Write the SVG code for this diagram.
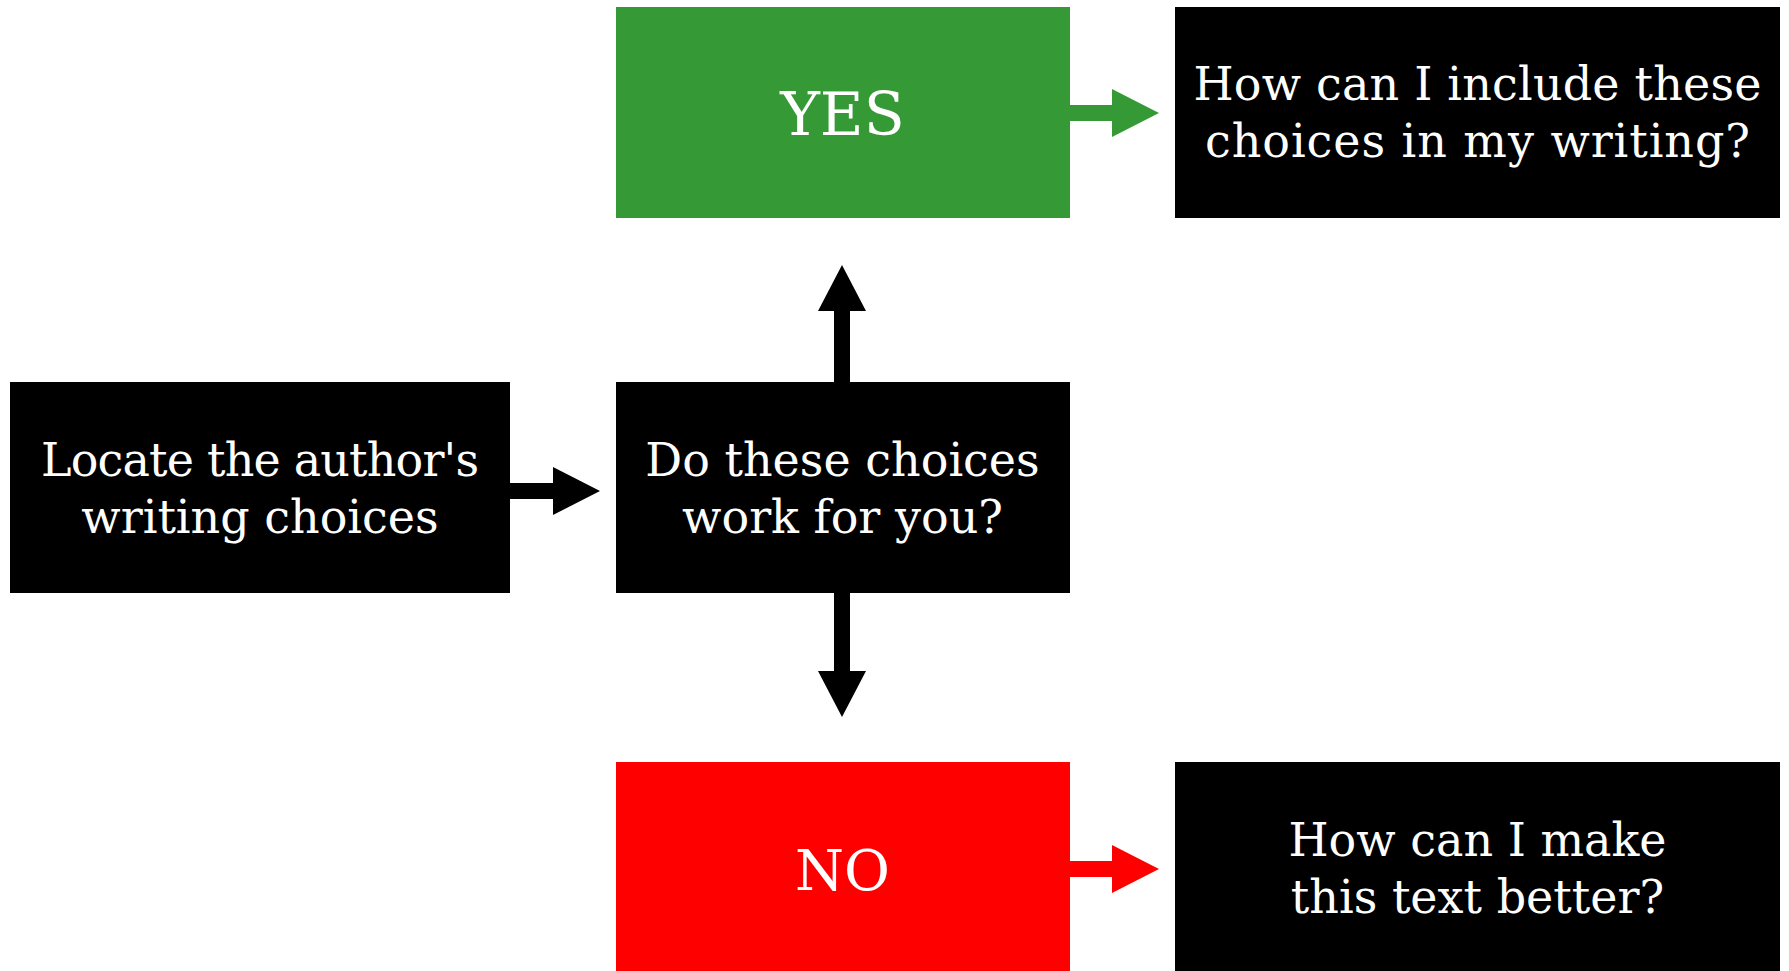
<svg xmlns="http://www.w3.org/2000/svg" width="1789" height="971" viewBox="0 0 1789 971">
  <style>
    .box { stroke: none; }
    .dark { fill: #000000; }
    .yes { fill: #359a35; }
    .no { fill: #ff0000; }
    .label { font-family: "DejaVu Serif", "Liberation Serif", serif; font-size: 46px; fill: #ffffff; text-anchor: middle; }
    .big { font-size: 60px; }
    .mid { font-size: 56px; }
  </style>
  <rect width="1789" height="971" fill="#ffffff"/>

  <g id="connectors">
    <!-- start -> question -->
    <polygon class="dark" points="510,483 553,483 553,467 600,491 553,515 553,499 510,499"/>
    <!-- question -> yes -->
    <polygon class="dark" points="834,382 834,311 818,311 842,265 866,311 850,311 850,382"/>
    <!-- question -> no -->
    <polygon class="dark" points="834,593 834,671 818,671 842,717 866,671 850,671 850,593"/>
    <!-- yes -> include -->
    <polygon class="yes" points="1070,105 1112,105 1112,89 1159,113 1112,137 1112,121 1070,121"/>
    <!-- no -> improve -->
    <polygon class="no" points="1070,861 1112,861 1112,845 1159,869 1112,893 1112,877 1070,877"/>
  </g>

  <g id="node-locate">
    <rect class="box dark" x="10" y="382" width="500" height="211"/>
    <text class="label" x="260" y="476" textLength="438">Locate the author's</text>
    <text class="label" x="260" y="533">writing choices</text>
  </g>

  <g id="node-question">
    <rect class="box dark" x="616" y="382" width="454" height="211"/>
    <text class="label" x="842.5" y="476">Do these choices</text>
    <text class="label" x="842.5" y="533">work for you?</text>
  </g>

  <g id="node-yes">
    <rect class="box yes" x="616" y="7" width="454" height="211"/>
    <text class="label big" x="842.5" y="135">YES</text>
  </g>

  <g id="node-no">
    <rect class="box no" x="616" y="762" width="454" height="209"/>
    <text class="label mid" x="842.5" y="890">NO</text>
  </g>

  <g id="node-include">
    <rect class="box dark" x="1175" y="7" width="605" height="211"/>
    <text class="label" x="1477.5" y="100" textLength="568">How can I include these</text>
    <text class="label" x="1477.5" y="157" textLength="545">choices in my writing?</text>
  </g>

  <g id="node-improve">
    <rect class="box dark" x="1175" y="762" width="605" height="209"/>
    <text class="label" x="1477.5" y="856">How can I make</text>
    <text class="label" x="1477.5" y="913">this text better?</text>
  </g>
</svg>
